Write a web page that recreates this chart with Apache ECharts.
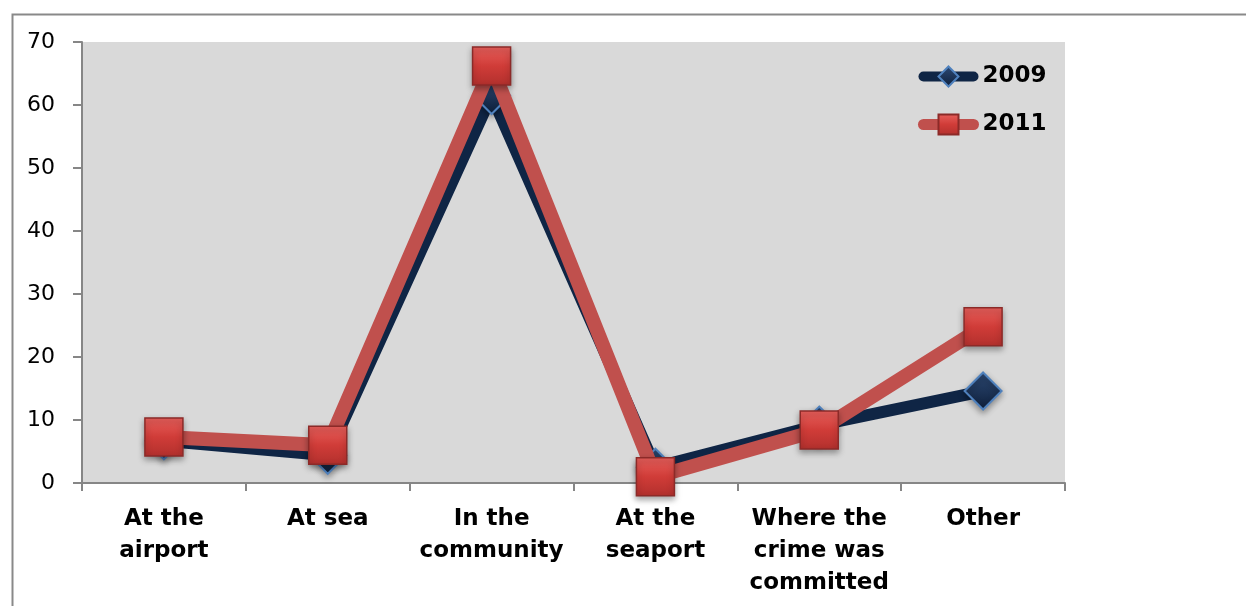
<!DOCTYPE html>
<html>
<head>
<meta charset="utf-8">
<script src="https://cdn.jsdelivr.net/npm/echarts@6/dist/echarts.min.js"></script>
<style>
html,body{margin:0;padding:0;background:#fff;}
#chart{width:1246px;height:606px;}
</style>
</head>
<body>
<div id="chart"></div>
<script>
const categories = ['At the\nairport', 'At sea', 'In the\ncommunity', 'At the\nseaport', 'Where the\ncrime was\ncommitted', 'Other'];
const values2009 = [6.7, 4.4, 61.5, 2.5, 9.2, 14.6];
const values2011 = [7.3, 6.0, 66.2, 1.0, 8.4, 24.8];
const yTicks = [0, 10, 20, 30, 40, 50, 60, 70];

const chart = echarts.init(document.getElementById('chart'), null, {renderer: 'canvas'});
const font = 'DejaVu Sans, Verdana, sans-serif';

const redGrad = {
  type: 'linear', x: 0, y: 0, x2: 0, y2: 1,
  colorStops: [{offset: 0, color: '#e8605c'}, {offset: 0.5, color: '#d03c38'}, {offset: 1, color: '#b2302d'}]
};
const navyGrad = {
  type: 'linear', x: 0, y: 0, x2: 0, y2: 1,
  colorStops: [{offset: 0, color: '#2d4a75'}, {offset: 1, color: '#0e1f3a'}]
};

chart.setOption({
  animation: false,
  graphic: [{
    type: 'rect', left: 10, top: 12, z: -10,
    shape: {width: 1260, height: 620},
    style: {fill: 'none', stroke: '#898989', lineWidth: 2}
  }],
  grid: {left: 82, right: 181, top: 42, bottom: 123, backgroundColor: '#d9d9d9', show: true, borderWidth: 0},
  legend: {
    left: 918, top: 65, orient: 'vertical', itemGap: 25,
    itemWidth: 50, itemHeight: 25, padding: 0,
    textStyle: {fontFamily: font, fontSize: 23, fontWeight: 'bold', color: '#000', padding: [0, 0, 0, 4]},
    data: [
      {name: '2009', lineStyle: {width: 10, cap: 'round', color: '#0f2545'}},
      {name: '2011', lineStyle: {width: 11, cap: 'round', color: '#c0504d'}}
    ]
  },
  xAxis: {
    type: 'category', data: categories, boundaryGap: true,
    axisLine: {lineStyle: {color: '#868686', width: 2}},
    axisTick: {show: true, length: 8, lineStyle: {color: '#868686', width: 2}},
    axisLabel: {fontFamily: font, fontSize: 23, fontWeight: 'bold', color: '#000', lineHeight: 32, margin: 20, interval: 0}
  },
  yAxis: {
    type: 'value', min: yTicks[0], max: yTicks[yTicks.length - 1], interval: 10,
    axisLine: {show: true, lineStyle: {color: '#868686', width: 2}},
    axisTick: {show: true, length: 9, lineStyle: {color: '#868686', width: 2}},
    splitLine: {show: false},
    axisLabel: {fontFamily: font, fontSize: 22, color: '#000', margin: 27}
  },
  series: [{
    name: '2009', type: 'line', data: values2009,
    lineStyle: {color: '#0f2545', width: 12},
    itemStyle: {color: navyGrad, borderColor: '#4f81bd', borderWidth: 2, shadowColor: 'rgba(0,0,0,0.35)', shadowBlur: 6, shadowOffsetY: 3},
    symbol: 'diamond', symbolSize: 37, z: 2
  }, {
    name: '2011', type: 'line', data: values2011,
    lineStyle: {color: '#c0504d', width: 14},
    itemStyle: {color: redGrad, borderColor: '#8c2a28', borderWidth: 1.5, shadowColor: 'rgba(0,0,0,0.35)', shadowBlur: 6, shadowOffsetY: 3},
    symbol: 'rect', symbolSize: 38, z: 3
  }]
});
</script>
</body>
</html>
